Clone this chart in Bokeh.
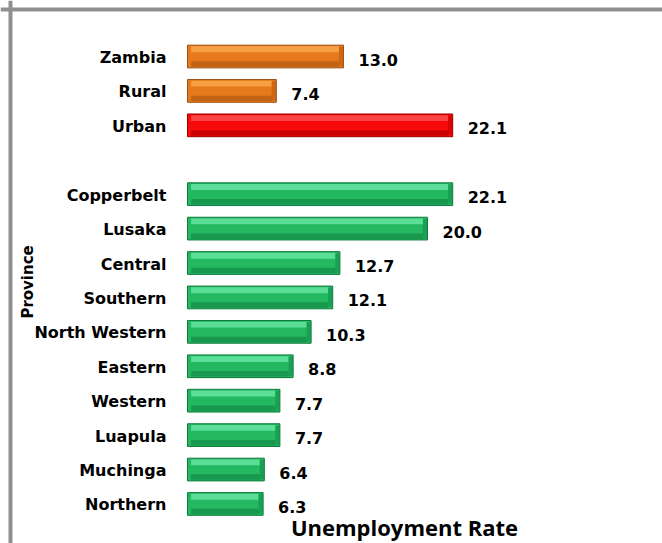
import numpy as np
from bokeh.plotting import figure
from bokeh.models import ColumnDataSource, Range1d, Span
from bokeh.core.properties import value
from bokeh.embed import file_html
from bokeh.resources import INLINE

# ---- data ----
summary_labels = ["Zambia", "Rural", "Urban"]
summary_values = [13.0, 7.4, 22.1]
province_labels = ["Copperbelt", "Lusaka", "Central", "Southern", "North Western",
                   "Eastern", "Western", "Luapula", "Muchinga", "Northern"]
province_values = [22.1, 20.0, 12.7, 12.1, 10.3, 8.8, 7.7, 7.7, 6.4, 6.3]
x_title = "Unemployment Rate"
y_title = "Province"

# ---- styles ----
PAL = {
    "orange": dict(main="#E5791C", light="#F8A348", dark="#B95E12", edge="#9C4F10"),
    "red": dict(main="#F60A0A", light="#FF4A4A", dark="#C20000", edge="#9A0000"),
    "green": dict(main="#24B860", light="#62E29E", dark="#14904A", edge="#0F7A3C"),
}
summary_style = ["orange", "orange", "red"]

W, H = 662, 543
PX_PER_UNIT = 12.0
X0_PX = 187.0          # canvas px where value 0 sits
ROW_PX = 34.42
TOP_ROW_PX = 56.0

n_prov = len(province_values)
prov_y = np.arange(n_prov)[::-1].astype(float)
sum_y = (n_prov + 1 + np.arange(len(summary_values))[::-1]).astype(float)

labels = summary_labels + province_labels
vals = np.array(summary_values + province_values)
ys = np.concatenate([sum_y, prov_y])
styles = summary_style + ["green"] * n_prov

x_start = -X0_PX / PX_PER_UNIT
x_end = (W - X0_PX) / PX_PER_UNIT
y_end = ys.max() + TOP_ROW_PX / ROW_PX
y_start = y_end - H / ROW_PX

src = ColumnDataSource(dict(
    y=ys, v=vals, label=labels,
    vtxt=[f"{v:.1f}" for v in vals],
    main=[PAL[s]["main"] for s in styles],
    light=[PAL[s]["light"] for s in styles],
    dark=[PAL[s]["dark"] for s in styles],
    edge=[PAL[s]["edge"] for s in styles],
    y_hi=ys + 0.21, y_lo=ys - 0.22,
    v_in=vals - 0.38, v_end=vals - 0.38,
))

p = figure(width=W, height=H, output_backend="svg", toolbar_location=None,
           x_range=Range1d(x_start, x_end), y_range=Range1d(y_start, y_end),
           min_border=0, background_fill_color="white", border_fill_color="white")
p.axis.visible = False
p.grid.visible = False
p.outline_line_color = None

BAR_H = 0.66
p.hbar(y="y", left=0, right="v", height=BAR_H, fill_color="main", line_color="edge",
       line_width=1, source=src)
p.hbar(y="y_hi", left=0.3, right="v_in", height=0.17, fill_color="light",
       line_color=None, fill_alpha=0.9, source=src)
p.hbar(y="y_lo", left=0.3, right="v_in", height=0.16, fill_color="dark",
       line_color=None, fill_alpha=0.8, source=src)
p.hbar(y="y", left="v_end", right="v", height=BAR_H - 0.1, fill_color="dark",
       line_color=None, fill_alpha=0.6, source=src)

# category labels
p.text(x=-1.75, y="y", text="label", source=src, text_align="right",
       text_baseline="middle", text_font=value("DejaVu Sans"), text_font_style="bold",
       text_font_size="16px", text_color="black", y_offset=1)
# value labels
p.text(x="v", y="y", text="vtxt", source=src, text_align="left", x_offset=15,
       text_baseline="middle", text_font=value("DejaVu Sans"), text_font_style="bold",
       text_font_size="16px", text_color="black", y_offset=3)

# axis titles
p.text(x=[x_start + 404 / PX_PER_UNIT], y=[y_start + 2 / ROW_PX], text=[x_title],
       text_align="center", text_baseline="bottom", text_font=value("Open Sans"),
       text_font_style="bold", text_font_size="22px", text_color="black")
p.text(x=[x_start + 27 / PX_PER_UNIT], y=[float(np.mean(ys)) + 0.22], text=[y_title],
       angle=np.pi / 2, text_align="center", text_baseline="middle",
       text_font=value("DejaVu Sans"), text_font_style="bold", text_font_size="15px",
       text_color="black")

# chart-area frame (left and top edges)
p.add_layout(Span(location=x_start + 10 / PX_PER_UNIT, dimension="height",
                  line_color="#8f8f8f", line_width=4))
p.add_layout(Span(location=y_end - 9 / ROW_PX, dimension="width",
                  line_color="#8f8f8f", line_width=4))

open("out.html", "w").write(file_html(p, INLINE))
